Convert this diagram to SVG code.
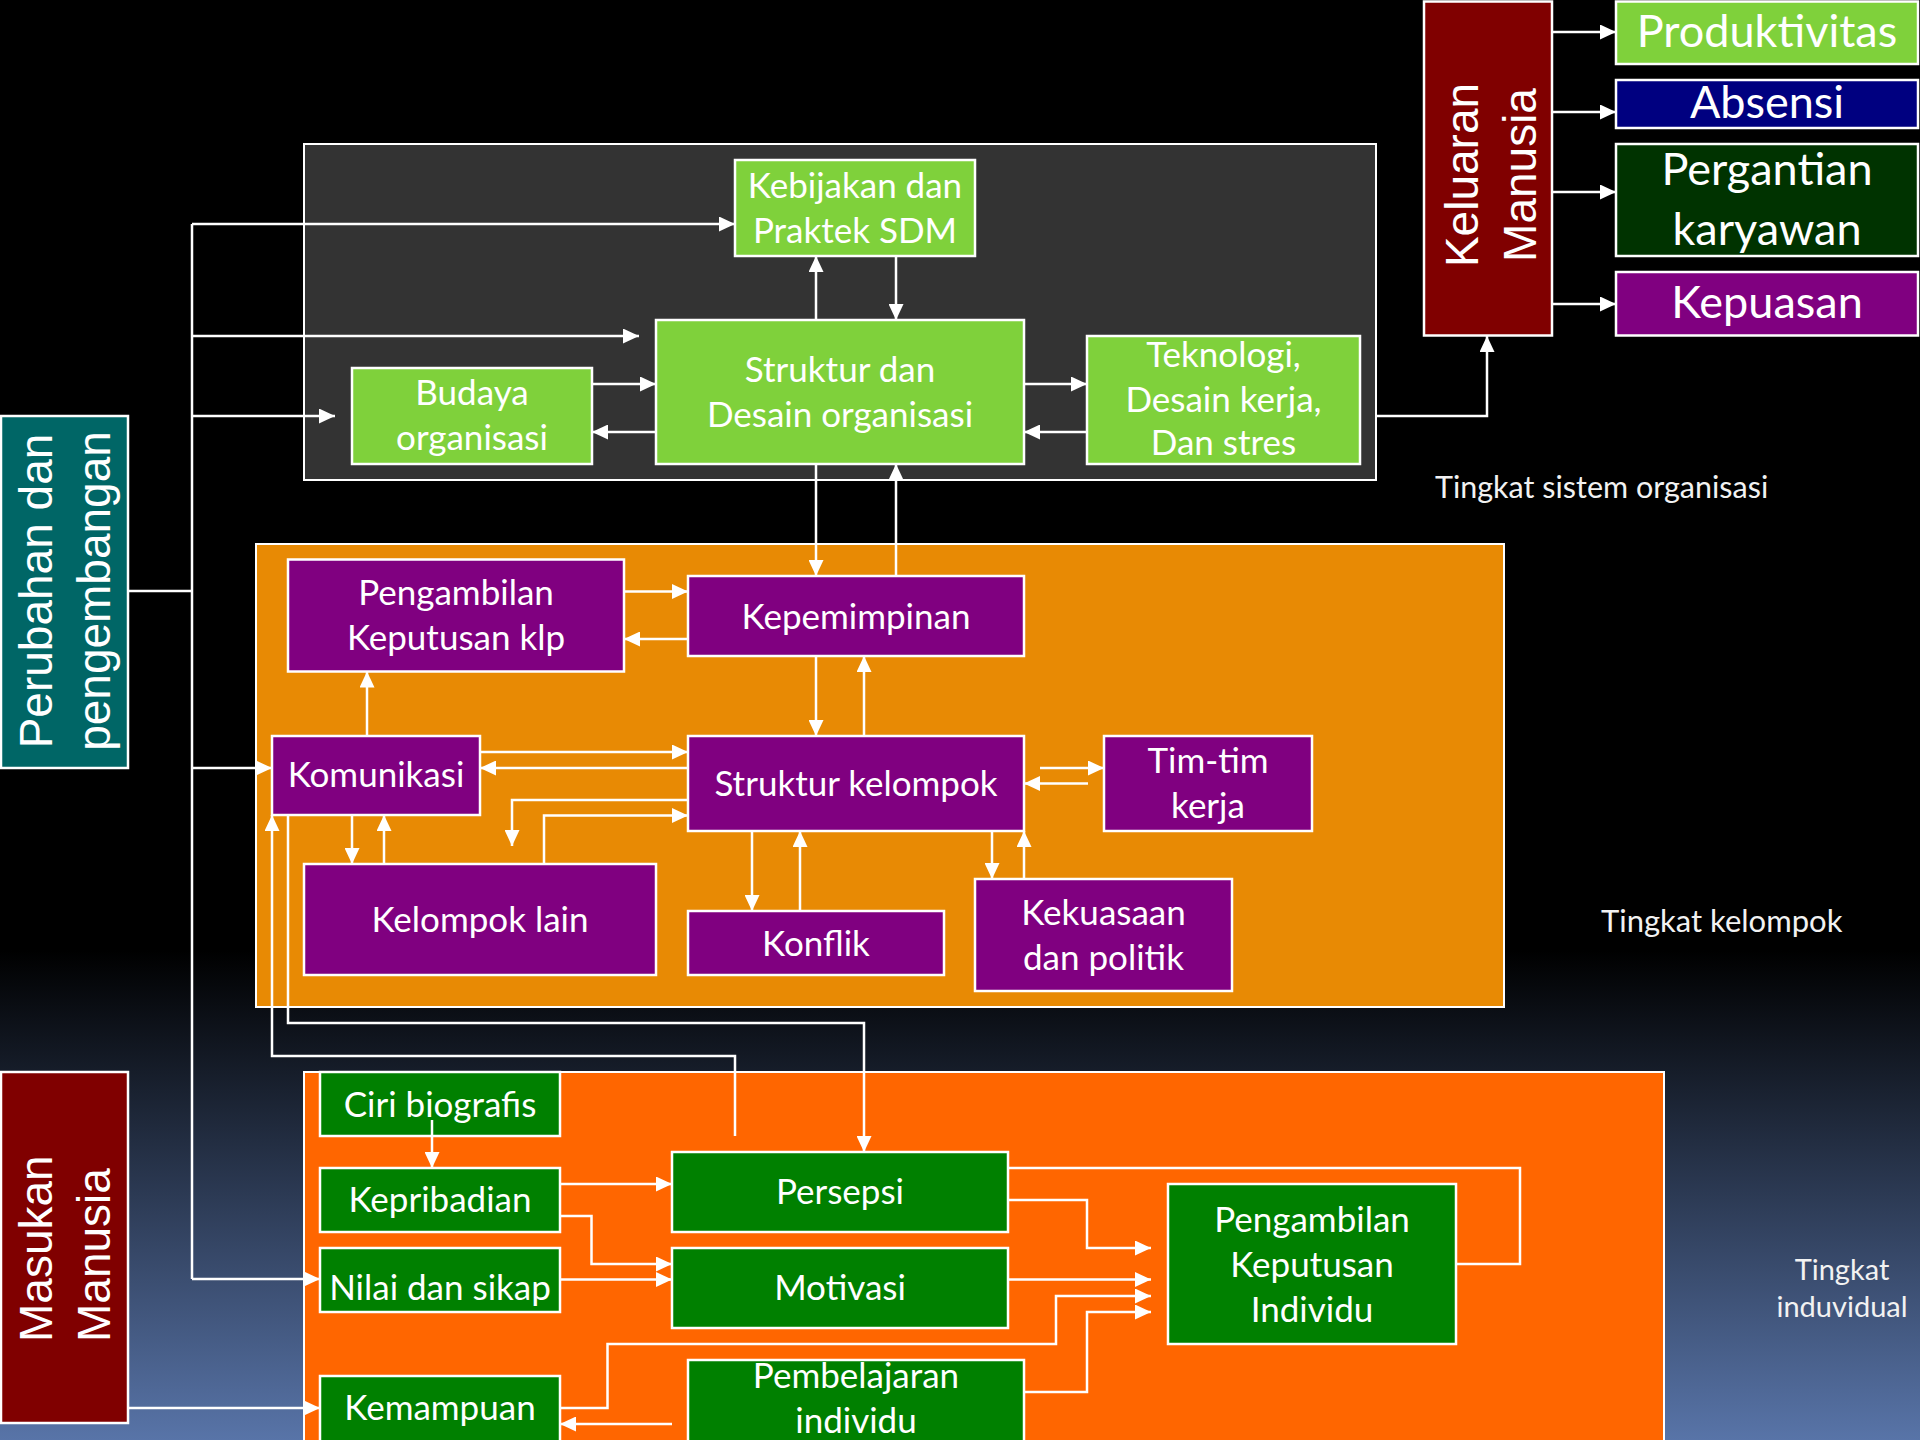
<svg xmlns="http://www.w3.org/2000/svg" width="1920" height="1440" viewBox="0 0 1920 1440">
<defs>
<linearGradient id="bg" x1="0" y1="0" x2="0" y2="1440" gradientUnits="userSpaceOnUse">
<stop offset="0" stop-color="#000"/>
<stop offset="0.66" stop-color="#000"/>
<stop offset="1" stop-color="#5874a8"/>
</linearGradient>
<marker id="ah" markerUnits="userSpaceOnUse" markerWidth="16" markerHeight="15" refX="16" refY="7.5" orient="auto" viewBox="0 0 16 15">
<path d="M0,0 L16,7.5 L0,15 z" fill="#fff"/>
</marker>
<style>
.box{stroke:#fff;stroke-width:2.5}
.cont{stroke:#fff;stroke-width:2}
.lg{fill:#7fd13b}.pu{fill:#800080}.dg{fill:#008000}.dr{fill:#800000}
.t{font-family:Lato,"Open Sans",sans-serif;fill:#fff;text-anchor:middle;font-size:35px}
.big{font-size:45px}
.rot{font-family:"Liberation Sans",Arial,sans-serif;font-size:46px;fill:#fff;text-anchor:middle}
.lbl{font-family:Lato,"Open Sans",sans-serif;font-size:30px;fill:#f2f2f2}
.c{fill:none;stroke:#fff;stroke-width:2.5}
.a{marker-end:url(#ah)}
</style>
</defs>
<rect x="0" y="0" width="1920" height="1440" fill="url(#bg)"/>

<g id="containers">
<rect id="sistem-organisasi" class="cont" x="304" y="144" width="1072" height="336" fill="#333"/>
<rect id="kelompok-area" class="cont" x="256" y="544" width="1248" height="463" fill="#e88a04"/>
<rect id="individu-area" class="cont" x="304" y="1072" width="1360" height="380" fill="#f60"/>
</g>

<g id="labels">
<text class="lbl" x="1435" y="498" style="font-size:30.5px">Tingkat sistem organisasi</text>
<text class="lbl" x="1601" y="932" style="font-size:31px">Tingkat kelompok</text>
<text class="lbl" x="1842" y="1280" text-anchor="middle" style="font-size:29px">Tingkat</text>
<text class="lbl" x="1842" y="1317" text-anchor="middle" style="font-size:29px">induvidual</text>
</g>

<g id="n-keluaran"><rect class="box dr" x="1424" y="1.5" width="128" height="334"/>
<text class="rot" transform="translate(1478,175) rotate(-90)">Keluaran</text>
<text class="rot" transform="translate(1536,175) rotate(-90)">Manusia</text></g>
<g id="n-produktivitas"><rect class="box lg" x="1616" y="1.5" width="302" height="62.5"/><text class="t big" x="1767" y="47">Produktivitas</text></g>
<g id="n-absensi"><rect class="box" fill="#000080" x="1616" y="80" width="302" height="48"/><text class="t big" x="1767" y="118">Absensi</text></g>
<g id="n-pergantian"><rect class="box" fill="#003300" x="1616" y="144" width="302" height="112"/><text class="t big" x="1767" y="185">Pergantian</text><text class="t big" x="1767" y="245">karyawan</text></g>
<g id="n-kepuasan"><rect class="box pu" x="1616" y="272" width="302" height="63.5"/><text class="t big" x="1767" y="318">Kepuasan</text></g>

<g id="n-kebijakan"><rect class="box lg" x="735" y="160" width="240" height="96"/><text class="t" x="855" y="198">Kebijakan dan</text><text class="t" x="855" y="243">Praktek SDM</text></g>
<g id="n-struktur-desain"><rect class="box lg" x="656" y="320" width="368" height="144"/><text class="t" x="840" y="382">Struktur dan</text><text class="t" x="840" y="427">Desain organisasi</text></g>
<g id="n-budaya"><rect class="box lg" x="352" y="368" width="240" height="96"/><text class="t" x="472" y="405">Budaya</text><text class="t" x="472" y="450">organisasi</text></g>
<g id="n-teknologi"><rect class="box lg" x="1087" y="336" width="273" height="128"/><text class="t" x="1223.5" y="367">Teknologi,</text><text class="t" x="1223.5" y="412">Desain kerja,</text><text class="t" x="1223.5" y="455">Dan stres</text></g>

<g id="n-perubahan"><rect class="box" fill="#006666" x="1" y="416" width="127" height="352"/>
<text class="rot" transform="translate(52,591) rotate(-90)">Perubahan dan</text>
<text class="rot" transform="translate(110,591) rotate(-90)">pengembangan</text></g>

<g id="n-pengambilan-klp"><rect class="box pu" x="288" y="559.5" width="336" height="112"/><text class="t" x="456" y="605">Pengambilan</text><text class="t" x="456" y="650">Keputusan klp</text></g>
<g id="n-kepemimpinan"><rect class="box pu" x="688" y="576" width="336" height="80"/><text class="t" x="856" y="629">Kepemimpinan</text></g>
<g id="n-komunikasi"><rect class="box pu" x="272" y="736" width="208" height="79"/><text class="t" x="376" y="787">Komunikasi</text></g>
<g id="n-struktur-kelompok"><rect class="box pu" x="688" y="736" width="336" height="95"/><text class="t" x="856" y="796">Struktur kelompok</text></g>
<g id="n-tim"><rect class="box pu" x="1104" y="736" width="208" height="95"/><text class="t" x="1208" y="773">Tim-tim</text><text class="t" x="1208" y="818">kerja</text></g>
<g id="n-kelompok-lain"><rect class="box pu" x="304" y="864" width="352" height="111"/><text class="t" x="480" y="932">Kelompok lain</text></g>
<g id="n-konflik"><rect class="box pu" x="688" y="911" width="256" height="64"/><text class="t" x="816" y="956">Konflik</text></g>
<g id="n-kekuasaan"><rect class="box pu" x="975" y="879" width="257" height="112"/><text class="t" x="1103.5" y="925">Kekuasaan</text><text class="t" x="1103.5" y="970">dan politik</text></g>

<g id="n-masukan"><rect class="box dr" x="1" y="1072" width="127" height="351"/>
<text class="rot" style="text-anchor:start" transform="translate(52,1342) rotate(-90)">Masukan</text>
<text class="rot" style="text-anchor:start" transform="translate(110,1342) rotate(-90)">Manusia</text></g>
<g id="n-ciri"><rect class="box dg" x="320" y="1072" width="240" height="64"/><text class="t" x="440" y="1117">Ciri biografis</text></g>
<g id="n-kepribadian"><rect class="box dg" x="320" y="1168" width="240" height="64"/><text class="t" x="440" y="1212">Kepribadian</text></g>
<g id="n-nilai"><rect class="box dg" x="320" y="1248" width="240" height="64"/><text class="t" x="440" y="1300">Nilai dan sikap</text></g>
<g id="n-kemampuan"><rect class="box dg" x="320" y="1376" width="240" height="72"/><text class="t" x="440" y="1420">Kemampuan</text></g>
<g id="n-persepsi"><rect class="box dg" x="672" y="1152" width="336" height="80"/><text class="t" x="840" y="1204">Persepsi</text></g>
<g id="n-motivasi"><rect class="box dg" x="672" y="1248" width="336" height="80"/><text class="t" x="840" y="1300">Motivasi</text></g>
<g id="n-pembelajaran"><rect class="box dg" x="688" y="1360" width="336" height="90"/><text class="t" x="856" y="1388">Pembelajaran</text><text class="t" x="856" y="1433">individu</text></g>
<g id="n-pki"><rect class="box dg" x="1168" y="1184" width="288" height="160"/><text class="t" x="1312" y="1232">Pengambilan</text><text class="t" x="1312" y="1277">Keputusan</text><text class="t" x="1312" y="1322">Individu</text></g>

<g id="connectors">
<path class="c" d="M192,224 V1279"/>
<path class="c a" d="M192,224 H735"/>
<path class="c a" d="M192,336 H639"/>
<path class="c a" d="M192,416 H335"/>
<path class="c" d="M128,591 H192"/>
<path class="c a" d="M192,768 H272"/>
<path class="c a" d="M192,1279 H320"/>
<path class="c a" d="M128,1408 H320"/>
<path class="c a" d="M592,384 H656"/>
<path class="c a" d="M656,432 H592"/>
<path class="c a" d="M1024,384 H1087"/>
<path class="c a" d="M1087,432 H1024"/>
<path class="c a" d="M816,320 V256"/>
<path class="c a" d="M896,256 V320"/>
<path class="c a" d="M1376,416 H1487 V336"/>
<path class="c a" d="M1552,32 H1616"/>
<path class="c a" d="M1552,112 H1616"/>
<path class="c a" d="M1552,192 H1616"/>
<path class="c a" d="M1552,304 H1616"/>
<path class="c a" d="M816,464 V576"/>
<path class="c a" d="M896,576 V464"/>
<path class="c a" d="M624,591.5 H688"/>
<path class="c a" d="M688,639 H624"/>
<path class="c a" d="M816,656 V736"/>
<path class="c a" d="M864,736 V656"/>
<path class="c a" d="M367,736 V671.5"/>
<path class="c a" d="M480,752 H688"/>
<path class="c a" d="M688,768 H480"/>
<path class="c a" d="M688,800 H512 V846"/>
<path class="c a" d="M544,864 V815.5 H688"/>
<path class="c a" d="M352,815 V864"/>
<path class="c a" d="M384,864 V815"/>
<path class="c a" d="M752,831 V911"/>
<path class="c a" d="M800,911 V831"/>
<path class="c a" d="M1040,768 H1104"/>
<path class="c a" d="M1088,783.5 H1024"/>
<path class="c a" d="M992,831 V879"/>
<path class="c a" d="M1024,879 V831"/>
<path class="c a" d="M288,815 V1023 H864 V1152"/>
<path class="c a" d="M735,1136 V1056 H272 V815"/>
<path class="c a" d="M432,1120 V1168"/>
<path class="c a" d="M560,1184 H672"/>
<path class="c a" d="M560,1216 H591.5 V1264 H672"/>
<path class="c a" d="M560,1279.5 H672"/>
<path class="c a" d="M1008,1200 H1087 V1248 H1151"/>
<path class="c a" d="M1008,1279.5 H1151"/>
<path class="c a" d="M560,1408 H607.5 V1344 H1056 V1296 H1151"/>
<path class="c a" d="M1024,1392 H1087 V1312 H1151"/>
<path class="c a" d="M672,1424 H560"/>
<path class="c" d="M1456,1264 H1520 V1168 H1008"/>
</g>
</svg>
